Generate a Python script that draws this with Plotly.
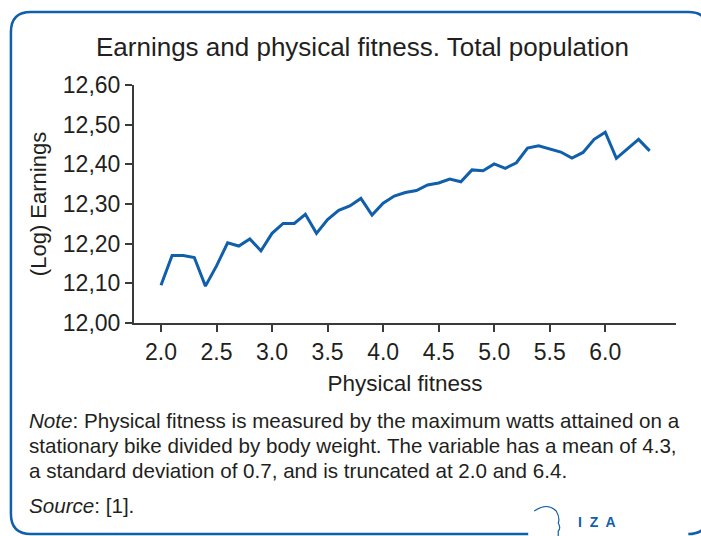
import plotly.graph_objects as go

# Physical fitness (watts per kg) and mean log earnings
fitness = [round(2.0 + 0.1 * i, 1) for i in range(45)]
log_earnings = [
    12.095, 12.170, 12.170, 12.165, 12.093, 12.144, 12.202, 12.194, 12.212, 12.182,
    12.226, 12.251, 12.251, 12.274, 12.226, 12.261, 12.284, 12.295, 12.314, 12.272,
    12.302, 12.320, 12.329, 12.334, 12.348, 12.353, 12.363, 12.356, 12.386, 12.384,
    12.401, 12.390, 12.404, 12.441, 12.447, 12.439, 12.431, 12.416, 12.430, 12.463,
    12.481, 12.415, 12.439, 12.463, 12.434,
]

x_tickvals = [2.0, 2.5, 3.0, 3.5, 4.0, 4.5, 5.0, 5.5, 6.0]
x_ticktext = ["2.0", "2.5", "3.0", "3.5", "4.0", "4.5", "5.0", "5.5", "6.0"]
y_tickvals = [12.0, 12.1, 12.2, 12.3, 12.4, 12.5, 12.6]
y_ticktext = ["12,00", "12,10", "12,20", "12,30", "12,40", "12,50", "12,60"]

title_text = "Earnings and physical fitness. Total population"
note_lines = [
    "<i>Note</i>: Physical fitness is measured by the maximum watts attained on a",
    "stationary bike divided by body weight. The variable has a mean of 4.3,",
    "a standard deviation of 0.7, and is truncated at 2.0 and 6.4.",
]
source_text = "<i>Source</i>: [1]."

W, H = 701, 536
L, R, T, B = 134, 25.3, 85, 213
PW, PH = W - L - R, H - T - B

BLUE = "#0f5fab"
TEXT = "#231f20"
AXIS = "#3a3a3a"
FONT = "Liberation Sans, Arial, sans-serif"


def px(x):
    return (x - L) / PW


def py(y):
    return (H - B - y) / PH


fig = go.Figure()
fig.add_trace(go.Scatter(
    x=fitness, y=log_earnings, mode="lines",
    line=dict(color=BLUE, width=3), hoverinfo="skip", showlegend=False,
))

fig.update_layout(
    width=W, height=H,
    margin=dict(l=L, r=R, t=T, b=B, pad=0),
    paper_bgcolor="white", plot_bgcolor="white",
    font=dict(family=FONT, color=TEXT, size=22),
    xaxis=dict(
        range=[1.757, 6.637], tickvals=x_tickvals, ticktext=x_ticktext,
        showgrid=False, zeroline=False, showline=True, linecolor=AXIS, linewidth=2,
        ticks="outside", ticklen=7, tickwidth=1.5, tickcolor=AXIS,
        tickfont=dict(size=23, color=TEXT),
        title=dict(text="Physical fitness", font=dict(size=22.5, color=TEXT), standoff=12),
    ),
    yaxis=dict(
        range=[12.0, 12.6], tickvals=y_tickvals, ticktext=y_ticktext,
        showgrid=False, zeroline=False, showline=True, linecolor=AXIS, linewidth=2,
        ticks="outside", ticklen=7, tickwidth=1.5, tickcolor=AXIS,
        tickfont=dict(size=23, color=TEXT),
        title=dict(text="(Log) Earnings", font=dict(size=22, color=TEXT), standoff=10),
    ),
)

annotations = [
    dict(text=title_text, x=px(362), y=py(47), xref="paper", yref="paper",
         xanchor="center", yanchor="middle", showarrow=False,
         font=dict(size=26, color=TEXT, family=FONT)),
]
for i, line in enumerate(note_lines):
    annotations.append(dict(
        text=line, x=px(27), y=py(420 + 25 * i), xref="paper", yref="paper",
        xanchor="left", yanchor="middle", showarrow=False,
        font=dict(size=20.6, color=TEXT, family=FONT)))
annotations.append(dict(
    text=source_text, x=px(27), y=py(505), xref="paper", yref="paper",
    xanchor="left", yanchor="middle", showarrow=False,
    font=dict(size=20.6, color=TEXT, family=FONT)))
annotations.append(dict(
    text="<b>I  Z  A</b>", x=px(597), y=py(522), xref="paper", yref="paper",
    xanchor="center", yanchor="middle", showarrow=False,
    font=dict(size=14, color=BLUE, family=FONT)))
fig.update_layout(annotations=annotations)


def pt(x, y):
    return f"{px(x):.5f},{py(y):.5f}"


# Rounded frame, left open at the bottom for the logo
frame = (
    f"M {pt(528, 534)} L {pt(31, 534)} Q {pt(11, 534)} {pt(11, 514)} "
    f"L {pt(11, 32)} Q {pt(11, 12)} {pt(31, 12)} L {pt(688, 12)} "
    f"Q {pt(708, 12)} {pt(708, 32)} L {pt(708, 514)} Q {pt(708, 534)} {pt(688, 534)}"
)
# Head silhouette of the logo
head = (
    f"M {pt(534, 511)} Q {pt(547, 502)} {pt(556, 511)} Q {pt(560, 518)} {pt(558, 523)} "
    f"Q {pt(561, 528)} {pt(558, 531)} L {pt(558, 536)}"
)
fig.update_layout(shapes=[
    dict(type="path", path=frame, xref="paper", yref="paper",
         line=dict(color=BLUE, width=2.5), layer="above"),
    dict(type="path", path=head, xref="paper", yref="paper",
         line=dict(color=BLUE, width=1.2), layer="above"),
])

fig.write_html("out.html")
